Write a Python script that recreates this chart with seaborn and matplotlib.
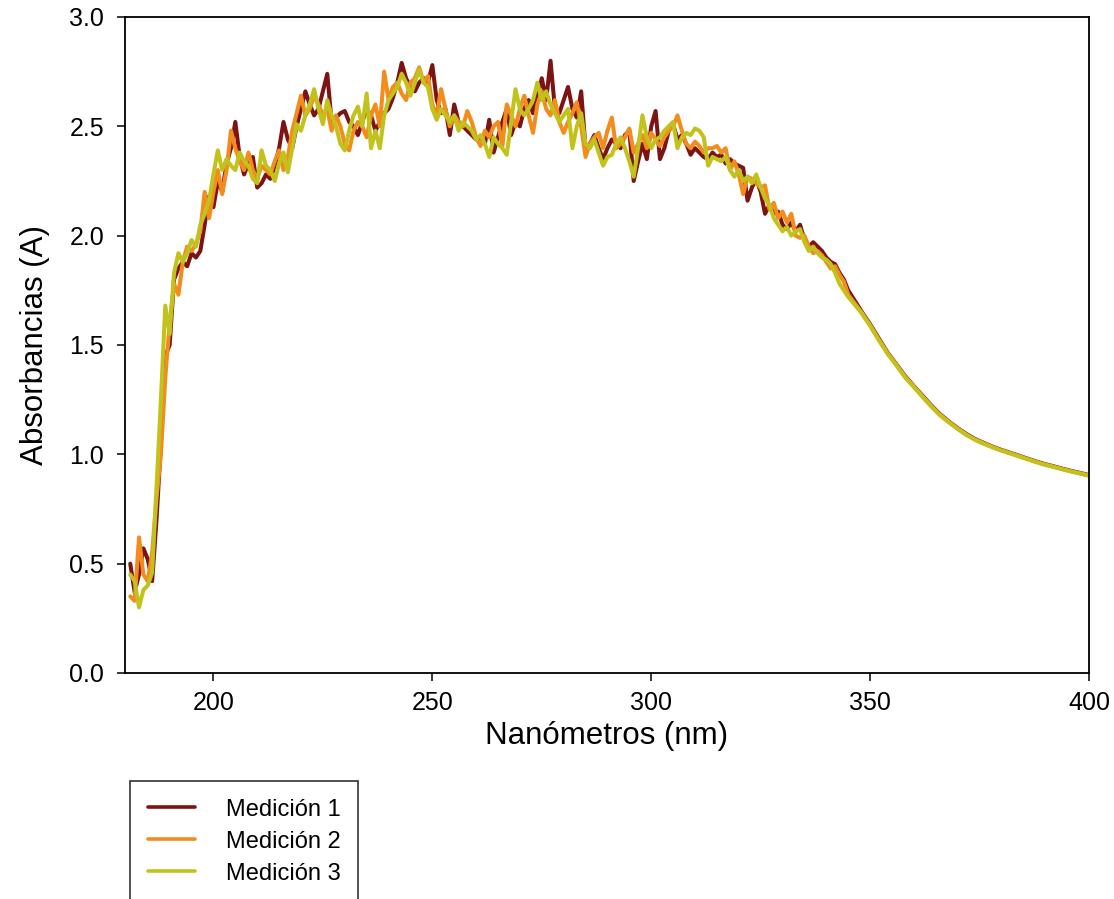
import numpy as np
import pandas as pd
import matplotlib
matplotlib.use("Agg")
import matplotlib.pyplot as plt
import seaborn as sns

# Wavelength grid (nm): 1 nm steps in the noisy region, 2 nm steps in the smooth tail
wl_noisy = list(range(181, 346))
wl_tail = list(range(348, 401, 2))
wavelength = wl_noisy + wl_tail

series_names = ["Medición 1", "Medición 2", "Medición 3"]
series_colors = ["#7d1414", "#f28c1c", "#c2c21c"]

med1 = [
    0.50, 0.37, 0.45, 0.57, 0.52, 0.42, 0.70, 1.05, 1.45, 1.50,   # 181-190
    1.80, 1.85, 1.88, 1.86, 1.92, 1.90, 1.93, 2.05, 2.18, 2.13,   # 191-200
    2.25, 2.20, 2.33, 2.40, 2.52, 2.36, 2.28, 2.33, 2.36, 2.22,   # 201-210
    2.24, 2.28, 2.26, 2.32, 2.40, 2.52, 2.44, 2.40, 2.50, 2.58,   # 211-220
    2.66, 2.60, 2.55, 2.58, 2.66, 2.74, 2.52, 2.54, 2.56, 2.57,   # 221-230
    2.52, 2.50, 2.46, 2.52, 2.58, 2.55, 2.48, 2.52, 2.56, 2.58,   # 231-240
    2.63, 2.70, 2.79, 2.72, 2.68, 2.66, 2.70, 2.72, 2.70, 2.78,   # 241-250
    2.62, 2.56, 2.58, 2.46, 2.60, 2.52, 2.50, 2.48, 2.46, 2.44,   # 251-260
    2.45, 2.42, 2.53, 2.38, 2.45, 2.52, 2.58, 2.46, 2.52, 2.50,   # 261-270
    2.58, 2.62, 2.56, 2.64, 2.72, 2.62, 2.80, 2.58, 2.56, 2.62,   # 271-280
    2.68, 2.58, 2.54, 2.66, 2.40, 2.42, 2.46, 2.40, 2.35, 2.40,   # 281-290
    2.44, 2.42, 2.40, 2.46, 2.48, 2.25, 2.34, 2.42, 2.35, 2.50,   # 291-300
    2.57, 2.35, 2.40, 2.48, 2.51, 2.44, 2.46, 2.42, 2.37, 2.40,   # 301-310
    2.38, 2.36, 2.35, 2.38, 2.36, 2.37, 2.33, 2.35, 2.33, 2.32,   # 311-320
    2.31, 2.16, 2.22, 2.26, 2.20, 2.10, 2.14, 2.10, 2.11, 2.05,   # 321-330
    2.03, 2.06, 2.02, 2.05, 1.98, 1.95, 1.97, 1.95, 1.93, 1.90,   # 331-340
    1.88, 1.87, 1.83, 1.80, 1.75,                                 # 341-345
    1.655, 1.595, 1.530, 1.465, 1.412, 1.358, 1.312, 1.268, 1.223,  # 348-364
    1.183, 1.150, 1.120, 1.093, 1.070, 1.052, 1.035, 1.020, 1.007,  # 366-382
    0.994, 0.980, 0.967, 0.955, 0.945, 0.934, 0.924, 0.915, 0.905,  # 384-400
]

med2 = [
    0.35, 0.33, 0.62, 0.45, 0.42, 0.55, 0.80, 1.00, 1.35, 1.60,   # 181-190
    1.78, 1.73, 1.88, 1.95, 1.93, 1.96, 2.02, 2.20, 2.08, 2.20,   # 191-200
    2.30, 2.19, 2.30, 2.48, 2.40, 2.34, 2.30, 2.38, 2.30, 2.26,   # 201-210
    2.32, 2.30, 2.28, 2.34, 2.39, 2.30, 2.36, 2.48, 2.56, 2.64,   # 211-220
    2.55, 2.58, 2.64, 2.60, 2.55, 2.58, 2.48, 2.55, 2.50, 2.42,   # 221-230
    2.39, 2.48, 2.52, 2.50, 2.45, 2.55, 2.60, 2.50, 2.75, 2.62,   # 231-240
    2.68, 2.70, 2.65, 2.62, 2.70, 2.72, 2.77, 2.70, 2.73, 2.60,   # 241-250
    2.55, 2.67, 2.58, 2.50, 2.55, 2.52, 2.50, 2.57, 2.52, 2.45,   # 251-260
    2.41, 2.48, 2.45, 2.50, 2.52, 2.41, 2.60, 2.55, 2.50, 2.58,   # 261-270
    2.64, 2.55, 2.47, 2.60, 2.66, 2.58, 2.55, 2.62, 2.52, 2.47,   # 271-280
    2.52, 2.56, 2.61, 2.50, 2.36, 2.42, 2.45, 2.47, 2.40, 2.48,   # 281-290
    2.54, 2.40, 2.42, 2.45, 2.49, 2.38, 2.42, 2.46, 2.40, 2.47,   # 291-300
    2.44, 2.41, 2.45, 2.48, 2.50, 2.55, 2.48, 2.42, 2.40, 2.43,   # 301-310
    2.41, 2.38, 2.40, 2.40, 2.41, 2.38, 2.40, 2.30, 2.34, 2.28,   # 311-320
    2.19, 2.27, 2.26, 2.24, 2.22, 2.23, 2.12, 2.15, 2.08, 2.11,   # 321-330
    2.06, 2.10, 2.00, 1.99, 2.00, 1.95, 1.92, 1.93, 1.91, 1.88,   # 331-340
    1.85, 1.86, 1.82, 1.79, 1.73,                                 # 341-345
    1.650, 1.590, 1.525, 1.462, 1.410, 1.355, 1.310, 1.265, 1.220,  # 348-364
    1.180, 1.148, 1.118, 1.090, 1.068, 1.050, 1.033, 1.018, 1.005,  # 366-382
    0.992, 0.978, 0.965, 0.953, 0.943, 0.932, 0.922, 0.913, 0.903,  # 384-400
]

med3 = [
    0.45, 0.42, 0.30, 0.38, 0.40, 0.46, 0.85, 1.25, 1.68, 1.55,   # 181-190
    1.83, 1.92, 1.88, 1.92, 1.98, 1.95, 2.05, 2.10, 2.16, 2.28,   # 191-200
    2.39, 2.30, 2.35, 2.32, 2.30, 2.38, 2.34, 2.32, 2.26, 2.24,   # 201-210
    2.39, 2.32, 2.30, 2.25, 2.33, 2.38, 2.29, 2.40, 2.51, 2.48,   # 211-220
    2.55, 2.60, 2.67, 2.58, 2.51, 2.62, 2.55, 2.50, 2.42, 2.39,   # 221-230
    2.48, 2.55, 2.59, 2.50, 2.65, 2.40, 2.48, 2.40, 2.55, 2.62,   # 231-240
    2.65, 2.68, 2.74, 2.70, 2.64, 2.70, 2.76, 2.70, 2.68, 2.58,   # 241-250
    2.53, 2.58, 2.55, 2.52, 2.55, 2.48, 2.52, 2.50, 2.48, 2.44,   # 251-260
    2.46, 2.42, 2.36, 2.45, 2.42, 2.40, 2.37, 2.52, 2.67, 2.58,   # 261-270
    2.55, 2.58, 2.62, 2.70, 2.62, 2.66, 2.60, 2.56, 2.52, 2.55,   # 271-280
    2.58, 2.40, 2.50, 2.56, 2.42, 2.40, 2.44, 2.38, 2.32, 2.36,   # 281-290
    2.37, 2.42, 2.45, 2.40, 2.34, 2.27, 2.40, 2.55, 2.45, 2.40,   # 291-300
    2.44, 2.45, 2.48, 2.50, 2.52, 2.40, 2.45, 2.47, 2.46, 2.49,   # 301-310
    2.48, 2.45, 2.32, 2.36, 2.35, 2.34, 2.36, 2.30, 2.27, 2.30,   # 311-320
    2.25, 2.27, 2.24, 2.28, 2.22, 2.17, 2.14, 2.08, 2.05, 2.02,   # 321-330
    2.04, 2.00, 2.02, 2.03, 1.97, 1.93, 1.95, 1.92, 1.90, 1.89,   # 331-340
    1.87, 1.83, 1.78, 1.75, 1.72,                                 # 341-345
    1.648, 1.588, 1.522, 1.460, 1.407, 1.352, 1.308, 1.262, 1.218,  # 348-364
    1.178, 1.146, 1.116, 1.089, 1.066, 1.048, 1.032, 1.017, 1.004,  # 366-382
    0.991, 0.977, 0.964, 0.952, 0.942, 0.931, 0.921, 0.912, 0.902,  # 384-400
]

x_ticks = [200, 250, 300, 350, 400]
y_ticks = [0.0, 0.5, 1.0, 1.5, 2.0, 2.5, 3.0]

frames = []
for name, vals in zip(series_names, [med1, med2, med3]):
    frames.append(pd.DataFrame({"Nanómetros": wavelength,
                                "Absorbancia": vals,
                                "Serie": name}))
df = pd.concat(frames, ignore_index=True)

sns.set_style("white")
plt.rcParams["font.family"] = ["Liberation Sans", "DejaVu Sans"]
plt.rcParams["text.color"] = "black"

fig = plt.figure(figsize=(11.14, 8.99), dpi=100)
ax = fig.add_axes([125 / 1114, 1 - 673 / 899, (1089 - 125) / 1114, (673 - 17) / 899])

sns.lineplot(data=df, x="Nanómetros", y="Absorbancia", hue="Serie",
             palette=dict(zip(series_names, series_colors)),
             hue_order=series_names, linewidth=2.9, estimator=None,
             sort=False, ax=ax, legend=False)
for line in ax.get_lines():
    line.set_solid_joinstyle("round")
    line.set_solid_capstyle("round")

ax.set_xlim(179.8, 400)
ax.set_ylim(0, 3.0)
ax.set_xticks(x_ticks)
ax.set_yticks(y_ticks)
ax.set_yticklabels([f"{v:.1f}" for v in y_ticks])

for side in ["left", "right", "top", "bottom"]:
    ax.spines[side].set_visible(True)
    ax.spines[side].set_color("black")
    ax.spines[side].set_linewidth(1.3)

ax.tick_params(axis="both", which="major", direction="out", length=6,
               width=1.1, color="black", labelsize=18, pad=9,
               bottom=True, left=True, top=False, right=False,
               labelcolor="black")
ax.tick_params(axis="x", pad=7)

ax.set_xlabel("Nanómetros (nm)", fontsize=22.5, labelpad=4, color="black")
ax.set_ylabel("Absorbancias (A)", fontsize=22.5, labelpad=14, color="black")

handles = [plt.Line2D([], [], color=c, linewidth=2.6) for c in series_colors]
leg = fig.legend(handles, series_names, loc="upper left",
                 bbox_to_anchor=(130 / 1114, 1 - 781 / 899),
                 bbox_transform=fig.transFigure, fontsize=17,
                 frameon=True, fancybox=False, edgecolor="black",
                 handlelength=2.0, handletextpad=1.3, labelspacing=0.42,
                 borderpad=0.75, borderaxespad=0, labelcolor="black")
leg.get_frame().set_linewidth(1.2)

fig.savefig("out.png", dpi=100)
